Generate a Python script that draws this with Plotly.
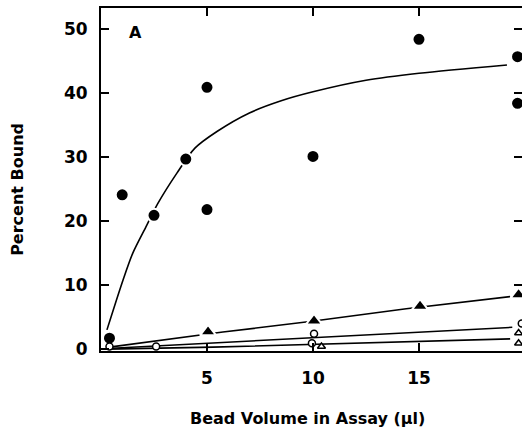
import plotly.graph_objects as go

# ---- data ----
# filled circles (saturation data)
fc_x = [0.4, 1.0, 2.5, 4.0, 5.0, 5.0, 10.0, 15.0, 19.65, 19.65]
fc_y = [1.7, 24.1, 20.9, 29.7, 40.9, 21.8, 30.1, 48.4, 45.7, 38.4]
# fitted curve through filled circles
fit1_x = [0.28, 1.04, 1.5, 2.12, 2.69, 3.58, 4.43, 5.47, 7.0, 8.5, 10.0, 12.5, 15.0, 19.15]
fit1_y = [3.0, 10.8, 15.0, 19.1, 22.8, 27.5, 31.4, 34.0, 36.9, 38.8, 40.2, 42.0, 43.1, 44.4]

# filled triangles
ft_x = [5.05, 10.05, 15.05, 19.7]
ft_y = [2.7, 4.4, 6.7, 8.5]
fit2_x = [0.4, 2.92, 5.75, 9.86, 14.4, 19.3]
fit2_y = [0.3, 1.4, 2.66, 4.3, 6.3, 8.2]

# open circles
oc_x = [0.4, 2.6, 10.05, 9.95, 19.85]
oc_y = [0.4, 0.4, 2.4, 0.9, 4.0]
fit3_x = [0.3, 5.28, 19.4]
fit3_y = [0.1, 0.94, 3.4]

# open triangles
ot_x = [10.4, 19.7, 19.7]
ot_y = [0.4, 2.5, 0.9]
fit4_x = [0.3, 5.28, 19.3]
fit4_y = [0.0, 0.3, 1.6]

x_ticks = [5, 10, 15]
y_ticks = [0, 10, 20, 30, 40, 50]

FONT = "DejaVu Sans"

fig = go.Figure()

fig.add_trace(go.Scatter(x=fit1_x, y=fit1_y, mode="lines", line=dict(color="black", width=1.6, shape="spline", smoothing=0.8),
                         hoverinfo="skip", showlegend=False))
for fx, fy in [(fit2_x, fit2_y), (fit3_x, fit3_y), (fit4_x, fit4_y)]:
    fig.add_trace(go.Scatter(x=fx, y=fy, mode="lines", line=dict(color="black", width=1.6),
                             hoverinfo="skip", showlegend=False))

fig.add_trace(go.Scatter(x=fc_x, y=fc_y, mode="markers",
                         marker=dict(symbol="circle", size=13, color="black", line=dict(color="white", width=2)),
                         showlegend=False))
fig.add_trace(go.Scatter(x=ft_x, y=ft_y, mode="markers",
                         marker=dict(symbol="triangle-up", size=14, color="black", line=dict(color="white", width=2)),
                         showlegend=False))
fig.add_trace(go.Scatter(x=oc_x, y=oc_y, mode="markers",
                         marker=dict(symbol="circle", size=7, color="white", line=dict(color="black", width=1.5)),
                         showlegend=False))
fig.add_trace(go.Scatter(x=ot_x, y=ot_y, mode="markers",
                         marker=dict(symbol="triangle-up", size=7, color="white", line=dict(color="black", width=1.5)),
                         showlegend=False))

# invisible trace to enable right-side y ticks
fig.add_trace(go.Scatter(x=[None], y=[None], yaxis="y2", showlegend=False))

fig.update_layout(
    width=522, height=435,
    margin=dict(l=101, r=0, t=8, b=84),
    paper_bgcolor="white", plot_bgcolor="white",
    font=dict(family=FONT, color="black", size=16, weight="bold"),
    xaxis=dict(range=[0, 19.86], tickvals=x_ticks, ticktext=[str(v) for v in x_ticks],
               ticks="inside", ticklen=8, tickwidth=2, tickcolor="black",
               showline=True, linecolor="black", linewidth=2, mirror="ticks",
               showgrid=False, zeroline=False, ticklabelstandoff=11,
               tickfont=dict(family=FONT, size=17, weight="bold")),
    yaxis=dict(range=[-0.3, 53.3], tickvals=y_ticks, ticktext=[str(v) for v in y_ticks],
               ticks="inside", ticklen=8, tickwidth=2, tickcolor="black",
               showline=True, linecolor="black", linewidth=2,
               showgrid=False, zeroline=False, ticklabelstandoff=8,
               tickfont=dict(family=FONT, size=17, weight="bold")),
    yaxis2=dict(range=[-0.3, 53.3], overlaying="y", side="right", tickvals=[10, 20, 30, 40, 50],
                ticks="inside", ticklen=8, tickwidth=2, tickcolor="black",
                showticklabels=False, showline=False, showgrid=False, zeroline=False),
    annotations=[
        dict(text="Percent Bound", textangle=-90, xref="paper", yref="paper",
             x=-0.197, y=0.47, xanchor="center", yanchor="middle", showarrow=False,
             font=dict(family=FONT, size=16, weight="bold")),
        dict(text="Bead Volume in Assay (\u03bcl)", xref="paper", yref="paper",
             x=0.49, y=-0.196, xanchor="center", yanchor="middle", showarrow=False,
             font=dict(family=FONT, size=16, weight="bold")),
        dict(text="A", xref="x", yref="y", x=1.65, y=49.5, xanchor="center", yanchor="middle",
             showarrow=False, font=dict(family=FONT, size=16, weight="bold")),
    ],
)

fig.write_html("out.html", config={"displayModeBar": False},
               post_script="document.body.style.margin='0';document.body.style.overflow='hidden';")
